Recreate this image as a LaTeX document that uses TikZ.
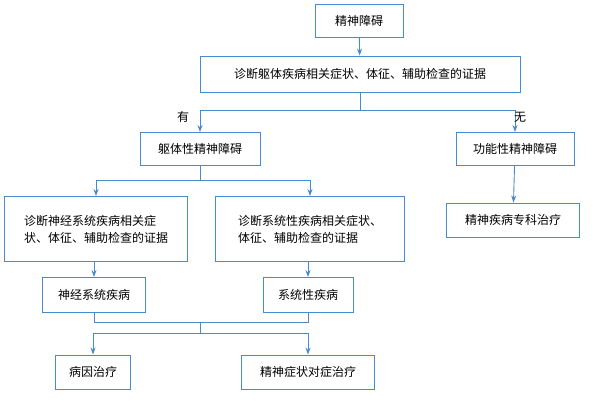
\documentclass[tikz,border=0pt]{standalone}
\usepackage{fontspec}
\setmainfont{Noto Sans CJK SC}
\usetikzlibrary{arrows.meta}
\definecolor{bl}{RGB}{70,140,205}
\begin{document}
\begin{tikzpicture}[x=1pt,y=-1pt,
  bx/.style={draw=bl,line width=0.9pt,fill=white,font=\fontsize{12}{17}\selectfont,inner sep=0pt,minimum height=33pt},
  ln/.style={draw=bl,line width=0.9pt},
  ar/.style={ln,-{Stealth[length=7pt,width=5pt]}}]
\useasboundingbox (0,0) rectangle (600,400);
\node[bx,minimum width=88pt] (a) at (359,21) {精神障碍};
\node[bx,minimum width=320pt,minimum height=36pt] (b) at (360,74) {诊断躯体疾病相关症状、体征、辅助检查的证据};
\node[bx,minimum width=120pt] (c) at (200,149) {躯体性精神障碍};
\node[bx,minimum width=118pt] (d) at (515,149) {功能性精神障碍};
\node[bx,minimum width=183pt,minimum height=65pt,align=left] (e) at (96,229) {诊断神经系统疾病相关症\\状、体征、辅助检查的证据};
\node[bx,minimum width=189pt,minimum height=65pt,align=left] (f) at (310,229) {诊断系统性疾病相关症状、\\体征、辅助检查的证据};
\node[bx,minimum width=133pt,minimum height=34pt] (g) at (513,220) {精神疾病专科治疗};
\node[bx,minimum width=103pt,minimum height=35pt] (h) at (94,295) {神经系统疾病};
\node[bx,minimum width=90pt,minimum height=35pt] (i) at (308,295) {系统性疾病};
\node[bx,minimum width=75pt,minimum height=34pt] (j) at (93,372) {病因治疗};
\node[bx,minimum width=133pt,minimum height=34pt] (k) at (308,372) {精神症状对症治疗};
\draw[ar] (a) -- (b);
\draw[ln] (b.south) -- (360,110) coordinate (m1);
\draw[ar] (m1) -| (c.north);
\draw[ar] (m1) -| (d.north);
\node[font=\fontsize{12}{14}\selectfont] (you) at (183,117) {有};
\node[font=\fontsize{12}{14}\selectfont] (wu) at (520,117) {无};
\draw[ln] (c.south) -- (200,180) coordinate (m2);
\draw[ar] (m2) -| (e.north);
\draw[ar] (m2) -| (f.north);
\draw[ar] (d) -- (g);
\draw[ar] (e.south -| h.north) -- (h.north);
\draw[ar] (f.south -| i.north) -- (i.north);
\draw[ln] (h.south) -- (94,322) -- (308,322) -- (i.south);
\draw[ln] (200,322) -- (200,333) coordinate (m3);
\draw[ar] (m3) -| (j.north);
\draw[ar] (m3) -| (k.north);
\end{tikzpicture}
\end{document}
